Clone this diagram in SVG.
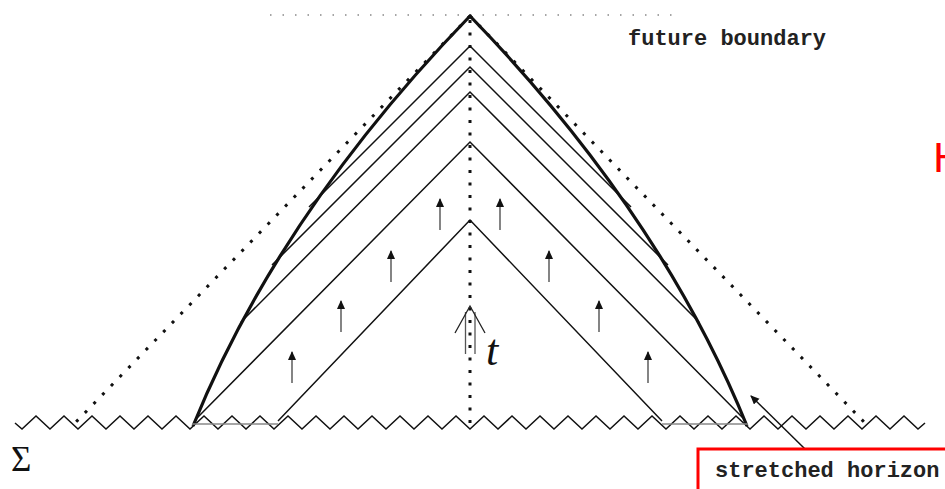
<svg xmlns="http://www.w3.org/2000/svg" width="945" height="489" viewBox="0 0 945 489">
<style>
.dot{fill:none;stroke:#111;stroke-width:3;stroke-dasharray:3 9.5}
.cone{fill:none;stroke:#111;stroke-width:1.5}
.hor{fill:none;stroke:#111;stroke-width:3.2}
.base{fill:none;stroke:#888;stroke-width:1.3}
.shaft{stroke:#666;stroke-width:1.6}
.mono{font-family:"Liberation Mono","Courier New",monospace;font-weight:bold;font-size:22px;fill:#222}
</style>
<defs>
<marker id="ah" markerWidth="9" markerHeight="10" refX="8" refY="4" orient="auto" markerUnits="userSpaceOnUse">
<path d="M0,0 L9,4 L0,8 z" fill="#111"/>
</marker>
</defs>
<rect width="945" height="489" fill="#fff"/>
<g id="future-boundary-line">
<line x1="270" y1="15" x2="672" y2="15" stroke="#888" stroke-width="1.5" stroke-dasharray="1.5 11"/>
</g>
<g id="outer-cone">
<line class="dot" x1="470" y1="16" x2="75" y2="423"/>
<line class="dot" x1="470" y1="16" x2="865" y2="423"/>
</g>
<g id="axis">
<line class="dot" x1="470" y1="20" x2="470" y2="430"/>
</g>
<g id="sigma-surface">
<polyline fill="none" stroke="#111" stroke-width="1.5" points="15,423 22,429 36,416 50,429 64,416 78,429 92,416 106,429 120,416 134,429 148,416 162,429 176,416 190,429 204,416 218,429 232,416 246,429 260,416 274,429 288,416 302,429 316,416 330,429 344,416 358,429 372,416 386,429 400,416 414,429 428,416 442,429 456,416 470,429 484,416 498,429 512,416 526,429 540,416 554,429 568,416 582,429 596,416 610,429 624,416 638,429 652,416 666,429 680,416 694,429 708,416 722,429 736,416 750,429 764,416 778,429 792,416 806,429 820,416 834,429 848,416 862,429 876,416 890,429 904,416 918,429 925,423"/>
</g>
<g id="stretched-horizon-curve">
<path class="hor" d="M193,426 Q280,212 470,16 Q660,212 747,426"/>
</g>
<g id="light-cones">
<polyline class="cone" points="309,207 470,46 631,207"/>
<polyline class="cone" points="272,265 470,67 668,265"/>
<polyline class="cone" points="241,322 470,92 699,322"/>
<polyline class="cone" points="197,418 470,142 743,418"/>
<polyline class="cone" points="278,421 470,220 662,421"/>
<line class="base" x1="192" y1="424" x2="278" y2="424"/>
<line class="base" x1="662" y1="424" x2="748" y2="424"/>
</g>
<g id="time-arrows">
<line class="shaft" x1="292" y1="383" x2="292" y2="352" marker-end="url(#ah)"/>
<line class="shaft" x1="341" y1="332" x2="341" y2="301" marker-end="url(#ah)"/>
<line class="shaft" x1="391" y1="282" x2="391" y2="251" marker-end="url(#ah)"/>
<line class="shaft" x1="440" y1="230" x2="440" y2="199" marker-end="url(#ah)"/>
<line class="shaft" x1="500" y1="230" x2="500" y2="199" marker-end="url(#ah)"/>
<line class="shaft" x1="549" y1="282" x2="549" y2="251" marker-end="url(#ah)"/>
<line class="shaft" x1="599" y1="332" x2="599" y2="301" marker-end="url(#ah)"/>
<line class="shaft" x1="648" y1="383" x2="648" y2="352" marker-end="url(#ah)"/>
</g>
<g id="t-arrow">
<line x1="465.5" y1="312" x2="465.5" y2="354" stroke="#555" stroke-width="1.3"/>
<line x1="475" y1="312" x2="475" y2="354" stroke="#555" stroke-width="1.3"/>
<polyline points="455,333 470,306 485,333" fill="none" stroke="#222" stroke-width="1.3"/>
<text x="486" y="365" font-family="Liberation Serif,serif" font-style="italic" font-size="44" fill="#111">t</text>
</g>
<g id="label-future">
<text class="mono" x="628" y="45">future boundary</text>
</g>
<g id="label-sigma">
<text x="11" y="471" font-family="Liberation Serif,serif" font-size="35" fill="#111">Σ</text>
</g>
<g id="label-stretched">
<line x1="805" y1="449" x2="751" y2="396" stroke="#111" stroke-width="1.5" marker-end="url(#ah)"/>
<rect x="698" y="449" width="262" height="50" fill="#fff" stroke="#f00" stroke-width="3"/>
<text class="mono" x="715" y="477">stretched horizon</text>
</g>
<g id="label-h">
<text x="933" y="172" font-family="Liberation Sans,Arial,sans-serif" font-size="43" fill="#f00">H</text>
</g>
</svg>
